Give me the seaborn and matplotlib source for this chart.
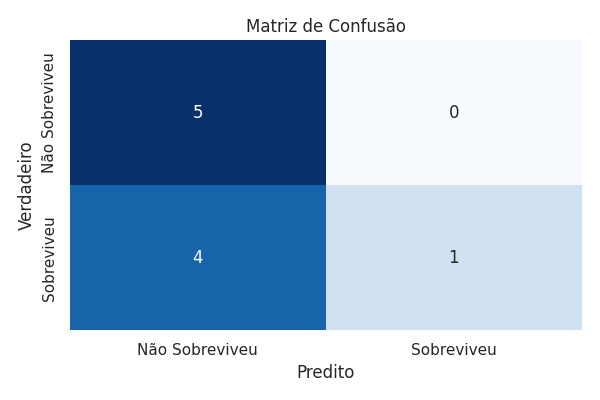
import matplotlib
matplotlib.use("Agg")
import matplotlib.pyplot as plt
import seaborn as sns
import numpy as np
import pandas as pd

classes = ["Não Sobreviveu", "Sobreviveu"]
row_nao = [5, 0]
row_sob = [4, 1]

sns.set_theme(style="white")
cm = pd.DataFrame([row_nao, row_sob], index=classes, columns=classes)

fig, ax = plt.subplots(figsize=(6, 4), dpi=100)
sns.heatmap(cm, annot=True, fmt="d", cmap="Blues", cbar=False, ax=ax)
ax.set_title("Matriz de Confusão")
ax.set_xlabel("Predito")
ax.set_ylabel("Verdadeiro")
plt.setp(ax.get_yticklabels(), rotation=90, va="center")
fig.tight_layout()
fig.savefig("out.png")
